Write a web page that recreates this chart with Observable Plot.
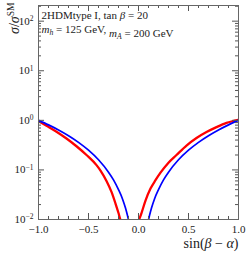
<!DOCTYPE html>
<html><head><meta charset="utf-8">
<script src="https://cdn.jsdelivr.net/npm/d3@7"></script>
<script src="https://cdn.jsdelivr.net/npm/@observablehq/plot@0.6"></script>
<style>body{margin:0;background:#fff}#chart{width:249px;height:254px}</style>
</head><body><div id="chart"></div>
<script>
// blue curve (left and right branches)
const blueS = [-1, -0.9, -0.8, -0.7, -0.6, -0.5, -0.4, -0.3, -0.25, -0.2, -0.16, -0.13, -0.11, -0.095];
const blueV = [1.0, 0.81, 0.64, 0.49, 0.36, 0.25, 0.16, 0.09, 0.063, 0.04, 0.026, 0.017, 0.012, 0.009];
const blueS2 = [0.095, 0.11, 0.13, 0.16, 0.2, 0.25, 0.3, 0.4, 0.5, 0.6, 0.7, 0.8, 0.9, 1.0];
const blueV2 = [0.009, 0.012, 0.017, 0.026, 0.04, 0.063, 0.09, 0.16, 0.25, 0.36, 0.49, 0.64, 0.81, 1.0];
// red curve
const redS = [-1, -0.92, -0.82, -0.72, -0.62, -0.52, -0.42, -0.38, -0.32, -0.27, -0.23, -0.2, -0.18, -0.17];
const redV = [0.97, 0.78, 0.59, 0.43, 0.30, 0.20, 0.125, 0.097, 0.060, 0.036, 0.021, 0.0135, 0.0098, 0.009];
const redS2 = [0.0, 0.03, 0.07, 0.12, 0.17, 0.22, 0.30, 0.38, 0.48, 0.58, 0.68, 0.78, 0.88, 1.0];
const redV2 = [0.0092, 0.0135, 0.024, 0.042, 0.062, 0.088, 0.14, 0.20, 0.31, 0.44, 0.58, 0.73, 0.89, 1.03];

const xMajor = [-1, -0.5, 0, 0.5, 1];
const xMinor = [-1, -0.9, -0.8, -0.7, -0.6, -0.5, -0.4, -0.3, -0.2, -0.1, 0, 0.1, 0.2, 0.3, 0.4, 0.5, 0.6, 0.7, 0.8, 0.9, 1];
const yMajor = [1e-2, 1e-1, 1, 10, 100];
const yExp = ["−2", "−1", "0", "1", "2"];
const yMinor = [];
for (const d of [-2, -1, 0, 1, 2]) for (let k = 2; k <= 9; k++) { const v = k * Math.pow(10, d); if (v < 207) yMinor.push(v); }

const label1 = "2HDMtype I, tan β = 20";
const label2 = "mh = 125 GeV, mA = 200 GeV";
const yTitle = "σ/σSM";
const xTitle = "sin(β − α)";

const W = 249, H = 254, mL = 38, mR = 11, mT = 5, mB = 35;
const iW = W - mL - mR, iH = H - mT - mB;
const zip = (s, v) => s.map((x, i) => ({s: x, v: v[i]}));
const tickCol = "#555";

const chart = Plot.plot({
  width: W, height: H,
  marginLeft: mL, marginRight: mR, marginTop: mT, marginBottom: mB,
  style: {fontFamily: "Liberation Serif", color: "#222", background: "#fff"},
  x: {domain: [-1, 1]},
  y: {type: "log", domain: [0.01, 207]},
  marks: [
    Plot.line(zip(redS, redV), {x: "s", y: "v", stroke: "#f00", strokeWidth: 2.3, curve: "monotone-x", clip: true}),
    Plot.line(zip(redS2, redV2), {x: "s", y: "v", stroke: "#f00", strokeWidth: 2.3, curve: "monotone-x", clip: true}),
    Plot.line(zip(blueS, blueV), {x: "s", y: "v", stroke: "#00f", strokeWidth: 1.7, curve: "monotone-x", clip: true}),
    Plot.line(zip(blueS2, blueV2), {x: "s", y: "v", stroke: "#00f", strokeWidth: 1.7, curve: "monotone-x", clip: true}),
    // inward ticks on all four sides
    Plot.tickX(xMinor, {x: d => d, insetTop: iH - 3, stroke: tickCol}),
    Plot.tickX(xMajor, {x: d => d, insetTop: iH - 6, stroke: tickCol}),
    Plot.tickX(xMinor, {x: d => d, insetBottom: iH - 3, stroke: tickCol}),
    Plot.tickX(xMajor, {x: d => d, insetBottom: iH - 6, stroke: tickCol}),
    Plot.tickY(yMinor, {y: d => d, insetRight: iW - 3, stroke: tickCol}),
    Plot.tickY(yMajor, {y: d => d, insetRight: iW - 6, stroke: tickCol}),
    Plot.tickY(yMinor, {y: d => d, insetLeft: iW - 3, stroke: tickCol}),
    Plot.tickY(yMajor, {y: d => d, insetLeft: iW - 6, stroke: tickCol}),
    Plot.frame({stroke: "#666"}),
    Plot.axisX(xMajor, {tickSize: 0, tickPadding: 6, fontSize: 11, label: null,
      tickFormat: d => (d < 0 ? "−" : "") + Math.abs(d).toFixed(1)}),
    Plot.axisY(yMajor, {tickSize: 0, tickPadding: 5, fontSize: 11, label: null,
      tickFormat: (d, i) => "10^" + yExp[yMajor.indexOf(d)]}),
    Plot.text([label1], {text: d => d, frameAnchor: "top-left", dx: 3, dy: 6, textAnchor: "start", lineAnchor: "top", fontSize: 11}),
    Plot.text([label2], {text: d => d, frameAnchor: "top-left", dx: 3, dy: 20, textAnchor: "start", lineAnchor: "top", fontSize: 11}),
    Plot.text([yTitle], {text: d => d, frameAnchor: "top-left", dx: -24, dy: -3, rotate: -90, textAnchor: "end", lineAnchor: "middle", fontSize: 14}),
    Plot.text([xTitle], {text: d => d, frameAnchor: "bottom-right", dx: 0, dy: 24, textAnchor: "end", lineAnchor: "middle", fontSize: 14})
  ]
});
document.getElementById("chart").appendChild(chart);

// rich text (italics, super/subscripts)
const rich = {
  [label1]: [["2HDMtype I, tan "], ["β", "i"], [" = 20"]],
  [label2]: [["m", "i"], ["h", "sub"], [" = 125 GeV, "], ["m", "i"], ["A", "sub"], [" = 200 GeV"]],
  [yTitle]: [["σ", "i"], ["/"], ["σ", "i"], ["SM", "sup"]],
  [xTitle]: [["sin("], ["β", "i"], [" − "], ["α", "i"], [")"]]
};
d3.select(chart).selectAll("text").each(function() {
  const el = d3.select(this);
  const t = this.textContent;
  let parts = rich[t];
  if (!parts && t.startsWith("10^")) parts = [["10"], [t.slice(3), "sup"]];
  if (!parts) return;
  el.text(null);
  for (const [s, st] of parts) {
    const ts = el.append("tspan").text(s);
    if (st === "i") ts.attr("font-style", "italic");
    if (st === "sub") ts.attr("font-style", "italic").attr("font-size", "0.7em").attr("dy", "0.25em");
    if (st === "sup") ts.attr("font-size", "0.68em").attr("dy", "-0.5em");
  }
  const spans = el.selectAll("tspan").nodes();
  for (let i = 1; i < spans.length; i++) {
    const prev = spans[i - 1].getAttribute("dy");
    if (prev && !spans[i].getAttribute("dy")) spans[i].setAttribute("dy", prev.startsWith("-") ? "0.34em" : "-0.175em");
  }
});
</script>
</body></html>
